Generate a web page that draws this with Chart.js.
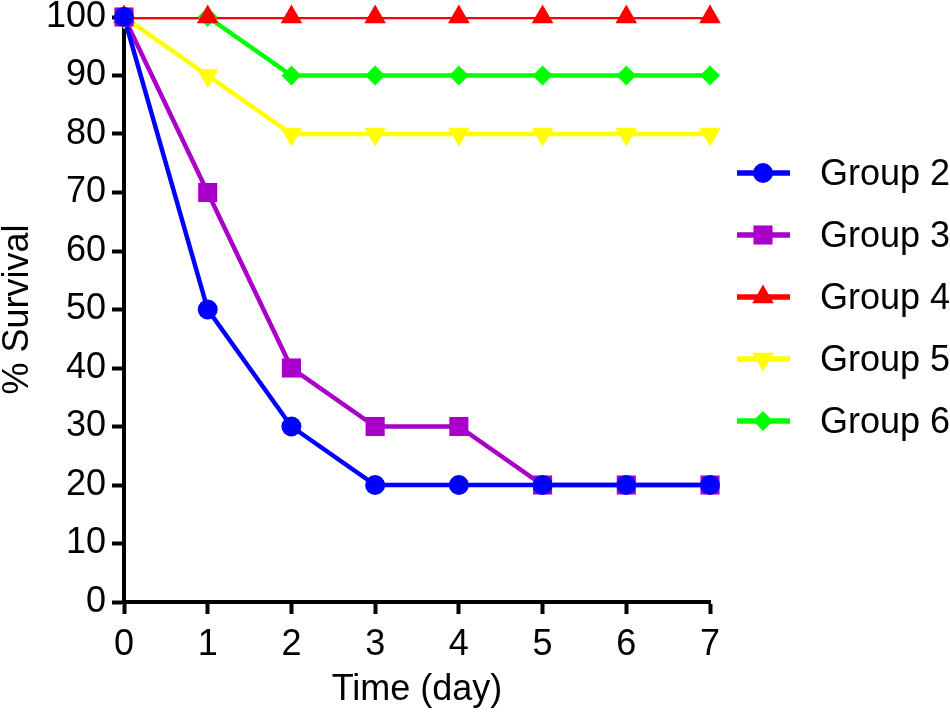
<!DOCTYPE html>
<html>
<head>
<meta charset="utf-8">
<script src="https://cdn.jsdelivr.net/npm/chart.js@4.4.1/dist/chart.umd.min.js"></script>
<style>
  html, body { margin: 0; padding: 0; background: #fff; }
  #wrap { width: 950px; height: 714px; }
</style>
</head>
<body>
<div id="wrap"><canvas id="myChart" width="950" height="714"></canvas></div>
<script>
// data
var days = ['0', '1', '2', '3', '4', '5', '6', '7'];
var group2 = [100, 50, 30, 20, 20, 20, 20, 20];
var group3 = [100, 70, 40, 30, 30, 20, 20, 20];
var group4 = [100, 100, 100, 100, 100, 100, 100, 100];
var group5 = [100, 90, 80, 80, 80, 80, 80, 80];
var group6 = [100, 100, 90, 90, 90, 90, 90, 90];
var yTicks = [0, 10, 20, 30, 40, 50, 60, 70, 80, 90, 100];

var groupNames = ['Group 2', 'Group 3', 'Group 4', 'Group 5', 'Group 6'];
var groupData = [group2, group3, group4, group5, group6];
var colors = ['#0000ff', '#a800c8', '#ff0000', '#ffff00', '#00ff00'];
var styles = ['circle', 'rect', 'triangle', 'triangle', 'rectRot'];
var radii = [10, 13.5, 12.5, 12.5, 10];
var rotations = [0, 0, 0, 180, 0];

var FONT = "'Liberation Sans', Arial, sans-serif";

var dataset = [];
// point layer (drawn on top, not clipped)
for (var i = 0; i < groupData.length; i++) {
    dataset.push({
        label: groupNames[i],
        data: groupData[i],
        showLine: false,
        pointStyle: styles[i],
        pointRadius: radii[i],
        pointRotation: rotations[i],
        pointBackgroundColor: colors[i],
        pointBorderColor: colors[i],
        pointBorderWidth: 0,
        clip: false,
        order: 0
    });
}
// line layer (clipped to the plot area like the original)
for (var i = 0; i < groupData.length; i++) {
    dataset.push({
        label: groupNames[i] + ' line',
        data: groupData[i],
        borderColor: colors[i],
        borderWidth: 4.5,
        pointRadius: 0,
        tension: 0,
        clip: 0,
        order: 1
    });
}

var legendLines = {
    id: 'legendLines',
    afterDraw: function(chart) {
        var ctx = chart.ctx;
        var x0 = chart.chartArea.right + 27;
        for (var i = 0; i < groupNames.length; i++) {
            var y = 173 + i * 62;
            ctx.save();
            ctx.strokeStyle = colors[i];
            ctx.lineWidth = 5.5;
            ctx.beginPath();
            ctx.moveTo(x0, y);
            ctx.lineTo(x0 + 53, y);
            ctx.stroke();
            ctx.fillStyle = colors[i];
            Chart.helpers.drawPoint(ctx, {
                pointStyle: styles[i],
                radius: radii[i],
                rotation: rotations[i],
                borderWidth: 0
            }, x0 + 26, y);
            ctx.fillStyle = '#000';
            ctx.font = '36px ' + FONT;
            ctx.textBaseline = 'middle';
            ctx.textAlign = 'left';
            ctx.fillText(groupNames[i], x0 + 83, y + 2);
            ctx.restore();
        }
    }
};

var ctx = document.getElementById('myChart');
var myChart = new Chart(ctx, {
    type: 'line',
    data: {
        labels: days,
        datasets: dataset
    },
    options: {
        responsive: false,
        animation: false,
        layout: { padding: { left: 0, top: 17, right: 240, bottom: 0 } },
        plugins: {
            legend: { display: false },
            tooltip: { enabled: false }
        },
        scales: {
            x: {
                type: 'category',
                offset: false,
                grid: { drawOnChartArea: false, drawTicks: true, tickLength: 12, tickWidth: 4, tickColor: '#000' },
                border: { color: '#000', width: 4 },
                ticks: { color: '#000', font: { family: FONT, size: 36 }, padding: 9, maxRotation: 0 },
                title: { display: true, text: 'Time (day)', color: '#000', font: { family: FONT, size: 36 }, padding: { top: 0, bottom: 2 } },
                afterFit: function(scale) {
                    scale.height = 112;
                    scale.paddingLeft = 0;
                    scale.paddingRight = 0;
                }
            },
            y: {
                min: 0,
                max: 100,
                afterBuildTicks: function(scale) {
                    scale.ticks = yTicks.map(function(v) { return { value: v }; });
                },
                grid: { drawOnChartArea: false, drawTicks: true, tickLength: 12, tickWidth: 4, tickColor: '#000' },
                border: { color: '#000', width: 4 },
                ticks: { color: '#000', font: { family: FONT, size: 36 }, padding: 6 },
                title: { display: true, text: '% Survival', color: '#000', font: { family: FONT, size: 36, lineHeight: 1.0 }, padding: { top: 0, bottom: 0 } },
                afterFit: function(scale) {
                    scale.width = 124;
                    scale.paddingTop = 0;
                    scale.paddingBottom = 0;
                }
            }
        }
    },
    plugins: [legendLines]
});
</script>
</body>
</html>
